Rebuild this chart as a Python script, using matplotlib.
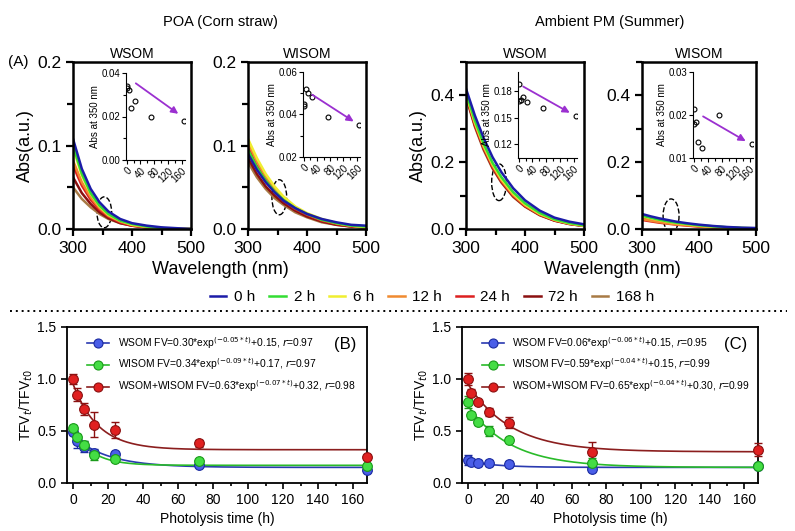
import numpy as np
import matplotlib
matplotlib.use("Agg")
import matplotlib.pyplot as plt
from matplotlib.patches import Ellipse
from matplotlib.lines import Line2D
from matplotlib.ticker import MultipleLocator

plt.rcParams['font.family'] = ['Liberation Sans', 'DejaVu Sans']

# ---- data: absorption spectra (A) ----
wavelength = [300, 315, 330, 345, 360, 380, 400, 425, 450, 475, 500]
hours = ["0 h", "2 h", "6 h", "12 h", "24 h", "72 h", "168 h"]
line_colors = ["#1c1ca8", "#33dd33", "#f0ee30", "#f08a30", "#dd2020", "#8b1010", "#a87a45"]

poa_wsom = [
    [0.108, 0.072, 0.048, 0.032, 0.021, 0.012, 0.007, 0.004, 0.002, 0.001, 0.000],
    [0.100, 0.066, 0.043, 0.028, 0.018, 0.010, 0.006, 0.003, 0.001, 0.000, 0.000],
    [0.097, 0.064, 0.042, 0.027, 0.017, 0.010, 0.005, 0.003, 0.001, 0.000, 0.000],
    [0.082, 0.056, 0.038, 0.025, 0.016, 0.009, 0.005, 0.002, 0.001, 0.000, 0.000],
    [0.076, 0.052, 0.035, 0.023, 0.015, 0.008, 0.004, 0.002, 0.001, 0.000, 0.000],
    [0.062, 0.043, 0.030, 0.020, 0.013, 0.007, 0.004, 0.002, 0.001, 0.000, 0.000],
    [0.050, 0.036, 0.026, 0.018, 0.012, 0.007, 0.004, 0.002, 0.001, 0.000, 0.000],
]
poa_wisom = [
    [0.090, 0.071, 0.056, 0.044, 0.034, 0.025, 0.018, 0.012, 0.008, 0.005, 0.004],
    [0.095, 0.074, 0.058, 0.045, 0.035, 0.025, 0.018, 0.011, 0.007, 0.004, 0.003],
    [0.108, 0.085, 0.066, 0.051, 0.039, 0.027, 0.019, 0.012, 0.007, 0.004, 0.002],
    [0.104, 0.081, 0.063, 0.048, 0.037, 0.026, 0.018, 0.011, 0.007, 0.004, 0.002],
    [0.098, 0.076, 0.059, 0.045, 0.034, 0.024, 0.017, 0.010, 0.006, 0.003, 0.002],
    [0.085, 0.066, 0.051, 0.040, 0.031, 0.022, 0.015, 0.009, 0.005, 0.003, 0.002],
    [0.080, 0.062, 0.048, 0.037, 0.029, 0.020, 0.014, 0.008, 0.005, 0.003, 0.002],
]
pm_wsom = [
    [0.420, 0.340, 0.272, 0.215, 0.170, 0.122, 0.086, 0.055, 0.034, 0.022, 0.014],
    [0.410, 0.325, 0.255, 0.198, 0.155, 0.110, 0.077, 0.048, 0.029, 0.018, 0.011],
    [0.405, 0.320, 0.250, 0.194, 0.150, 0.106, 0.074, 0.046, 0.028, 0.017, 0.010],
    [0.405, 0.318, 0.246, 0.190, 0.146, 0.102, 0.071, 0.044, 0.027, 0.016, 0.010],
    [0.400, 0.312, 0.242, 0.186, 0.143, 0.100, 0.069, 0.043, 0.026, 0.016, 0.010],
    [0.398, 0.310, 0.240, 0.184, 0.141, 0.098, 0.068, 0.042, 0.025, 0.015, 0.009],
    [0.395, 0.306, 0.236, 0.181, 0.139, 0.096, 0.067, 0.041, 0.025, 0.015, 0.009],
]
pm_wisom = [
    [0.045, 0.038, 0.032, 0.027, 0.022, 0.017, 0.013, 0.009, 0.006, 0.004, 0.003],
    [0.040, 0.034, 0.028, 0.023, 0.019, 0.015, 0.011, 0.008, 0.005, 0.003, 0.002],
    [0.038, 0.032, 0.027, 0.022, 0.018, 0.014, 0.010, 0.007, 0.005, 0.003, 0.002],
    [0.030, 0.025, 0.021, 0.017, 0.014, 0.011, 0.008, 0.005, 0.003, 0.002, 0.001],
    [0.027, 0.023, 0.019, 0.016, 0.013, 0.010, 0.007, 0.005, 0.003, 0.002, 0.001],
    [0.034, 0.029, 0.024, 0.020, 0.016, 0.012, 0.009, 0.006, 0.004, 0.002, 0.001],
    [0.036, 0.030, 0.025, 0.020, 0.016, 0.012, 0.009, 0.006, 0.004, 0.002, 0.001],
]

# inset: absorbance at 350 nm vs time
inset_time = [0, 2, 6, 12, 24, 72, 168]
abs350_poa_wsom = [0.034, 0.033, 0.032, 0.024, 0.027, 0.020, 0.018]
abs350_poa_wisom = [0.044, 0.045, 0.052, 0.050, 0.048, 0.039, 0.035]
abs350_pm_wsom = [0.188, 0.169, 0.170, 0.174, 0.168, 0.161, 0.152]
abs350_pm_wisom = [0.0215, 0.0178, 0.0184, 0.0137, 0.0124, 0.020, 0.0133]

# ---- data: fluorescence decay (B, C) ----
ptime = [0, 2, 6, 12, 24, 72, 168]
b_wsom = [0.49, 0.40, 0.35, 0.29, 0.28, 0.17, 0.125]
b_wsom_err = [0.03, 0.06, 0.05, 0.04, 0.02, 0.02, 0.02]
b_wisom = [0.53, 0.44, 0.37, 0.27, 0.23, 0.21, 0.16]
b_wisom_err = [0.03, 0.03, 0.03, 0.05, 0.02, 0.02, 0.02]
b_mix = [1.00, 0.85, 0.71, 0.56, 0.51, 0.38, 0.25]
b_mix_err = [0.05, 0.06, 0.06, 0.12, 0.08, 0.03, 0.02]

c_wsom = [0.22, 0.20, 0.19, 0.19, 0.18, 0.135, 0.16]
c_wsom_err = [0.05, 0.03, 0.03, 0.03, 0.03, 0.02, 0.02]
c_wisom = [0.78, 0.65, 0.59, 0.50, 0.41, 0.19, 0.16]
c_wisom_err = [0.06, 0.03, 0.03, 0.05, 0.02, 0.05, 0.02]
c_mix = [1.00, 0.87, 0.78, 0.68, 0.58, 0.30, 0.32]
c_mix_err = [0.06, 0.03, 0.02, 0.04, 0.05, 0.09, 0.06]

# fitted parameters (a, k, c) for FV = a*exp(-k*t)+c
b_fits = [(0.30, 0.05, 0.15), (0.34, 0.09, 0.17), (0.63, 0.07, 0.32)]
c_fits = [(0.06, 0.06, 0.15), (0.59, 0.04, 0.15), (0.65, 0.04, 0.30)]
b_labels = ["WSOM FV=0.30*exp$^{(-0.05*t)}$+0.15, $r$=0.97",
            "WISOM FV=0.34*exp$^{(-0.09*t)}$+0.17, $r$=0.97",
            "WSOM+WISOM FV=0.63*exp$^{(-0.07*t)}$+0.32, $r$=0.98"]
c_labels = ["WSOM FV=0.06*exp$^{(-0.06*t)}$+0.15, $r$=0.95",
            "WISOM FV=0.59*exp$^{(-0.04*t)}$+0.15, $r$=0.99",
            "WSOM+WISOM FV=0.65*exp$^{(-0.04*t)}$+0.30, $r$=0.99"]

W, H = 795, 531
fig = plt.figure(figsize=(W / 100, H / 100), dpi=100)


def px_axes(left, top, right, bottom):
    """ Add an axes using pixel coordinates of the figure. """
    return fig.add_axes([left / W, 1 - bottom / H, (right - left) / W, (bottom - top) / H])


def spectrum_panel(left, right, data, ymax, ystep, title, ell, show_ylabel):
    """ Draw one spectra panel with dashed ellipse. """
    ax = px_axes(left, 62, right, 229)
    for i in range(len(hours) - 1, -1, -1):
        ax.plot(wavelength, data[i], color=line_colors[i], lw=1.8)
    ax.set_xlim(300, 500)
    ax.set_ylim(0, ymax)
    ax.xaxis.set_major_locator(MultipleLocator(100))
    ax.xaxis.set_minor_locator(MultipleLocator(50))
    ax.yaxis.set_major_locator(MultipleLocator(ystep))
    ax.yaxis.set_minor_locator(MultipleLocator(ystep / 2))
    ax.tick_params(which='major', direction='out', length=5, width=1.6, labelsize=12.5)
    ax.tick_params(which='minor', direction='out', length=4, width=1.6)
    for s in ax.spines.values():
        s.set_linewidth(1.8)
    ax.set_title(title, fontsize=10, pad=3)
    if show_ylabel:
        ax.set_ylabel("Abs(a.u.)", fontsize=13, labelpad=2)
    ax.add_patch(Ellipse(ell[:2], ell[2], ell[3], fill=False, ls='--', lw=1.0, ec='black'))
    return ax


def inset(left, top, right, bottom, yvals, ylim, ymajor, yminor, fmt, arrow):
    """ Draw the Abs-at-350 inset with arrow. """
    ax = px_axes(left, top, right, bottom)
    ax.patch.set_alpha(0)
    ax.plot(inset_time, yvals, 'o', mfc='none', mec='black', ms=3.5, mew=0.8)
    ax.set_xlim(-2, 170)
    ax.set_ylim(*ylim)
    ax.spines['top'].set_visible(False)
    ax.spines['right'].set_visible(False)
    for s in ['left', 'bottom']:
        ax.spines[s].set_linewidth(0.8)
    ax.set_xticks([0, 40, 80, 120, 160])
    ax.xaxis.set_minor_locator(MultipleLocator(20))
    ax.set_yticks(ymajor)
    if yminor:
        ax.yaxis.set_minor_locator(MultipleLocator(yminor))
    ax.set_yticklabels([fmt % v for v in ymajor])
    ax.tick_params(which='both', direction='out', width=0.8, labelsize=7, pad=1)
    ax.tick_params(which='major', length=3)
    ax.tick_params(which='minor', length=2)
    for lab in ax.get_xticklabels():
        lab.set_rotation(45)
        lab.set_ha('right')
        lab.set_va('top')
        lab.set_rotation_mode('anchor')
    ax.set_ylabel("Abs at 350 nm", fontsize=7, labelpad=1)
    ax.annotate("", xy=arrow[2:], xytext=arrow[:2],
                arrowprops=dict(arrowstyle='-|>', color='#9b30d0', lw=1.3, mutation_scale=10))
    return ax


spectrum_panel(73, 191, poa_wsom, 0.2, 0.1, "WSOM", (353, 0.02, 25, 0.037), True)
spectrum_panel(248, 366, poa_wisom, 0.2, 0.1, "WISOM", (353, 0.038, 25, 0.042), False)
spectrum_panel(466, 584, pm_wsom, 0.5, 0.2, "WSOM", (356, 0.14, 25, 0.11), True)
spectrum_panel(642, 756, pm_wisom, 0.5, 0.2, "WISOM", (351, 0.04, 28, 0.10), False)

inset(126, 73, 185, 160, abs350_poa_wsom, (0, 0.04), [0.00, 0.02, 0.04], 0.01, "%.2f",
      (20, 0.036, 157, 0.0205))
inset(303, 72, 360, 157, abs350_poa_wisom, (0.02, 0.06), [0.02, 0.04, 0.06], 0.01, "%.2f",
      (19, 0.050, 158, 0.036))
inset(518, 72, 577, 158, abs350_pm_wsom, (0.104, 0.202), [0.12, 0.15, 0.18], None, "%.2f",
      (6, 0.187, 156, 0.154))
inset(693, 72, 753, 158, abs350_pm_wisom, (0.01, 0.03), [0.01, 0.02, 0.03], None, "%.2f",
      (20, 0.020, 156, 0.0136))

fig.text(220 / W, 1 - 22 / H, "POA (Corn straw)", ha='center', va='center', fontsize=10.5)
fig.text(610 / W, 1 - 22 / H, "Ambient PM (Summer)", ha='center', va='center', fontsize=10.5)
fig.text(8 / W, 1 - 62 / H, "(A)", ha='left', va='center', fontsize=11)
fig.text(220 / W, 1 - 269 / H, "Wavelength (nm)", ha='center', va='center', fontsize=13)
fig.text(612 / W, 1 - 269 / H, "Wavelength (nm)", ha='center', va='center', fontsize=13)

handles = [Line2D([], [], color=c, lw=1.8) for c in line_colors]
fig.legend(handles, hours, loc='center', bbox_to_anchor=(432 / W, 1 - 297 / H), ncol=7,
           frameon=False, fontsize=11, handlelength=1.1, handletextpad=0.5, columnspacing=0.9,
           borderpad=0.1)

fig.add_artist(Line2D([10 / W, 787 / W], [1 - 311 / H, 1 - 311 / H], color='black',
                      ls=(0, (1, 2)), lw=1.4))

# ---- decay panels ----
dot_face = ["#4a5ee8", "#44dd44", "#e02020"]
dot_edge = ["#1a2aa0", "#1a9a1a", "#8b1010"]
fit_color = ["#2a3ab0", "#2abb2a", "#8b1e1e"]


def decay_panel(left, right, series, errs, fits, labels, tag):
    """ Draw a fluorescence decay panel with fitted curves. """
    ax = px_axes(left, 327, right, 483)
    tt = np.linspace(0, 168, 300)
    handles = []
    for i in range(3):
        a, k, c = fits[i]
        ax.plot(tt, a * np.exp(-k * tt) + c, color=fit_color[i], lw=1.2, zorder=2)
        ax.errorbar(ptime, series[i], yerr=errs[i], fmt='none', ecolor=dot_edge[i],
                    elinewidth=1, capsize=3, capthick=1, zorder=3, clip_on=False)
        ax.plot(ptime, series[i], 'o', mfc=dot_face[i], mec=dot_edge[i], ms=7, mew=0.8,
                zorder=4, clip_on=False)
        handles.append(Line2D([], [], color=fit_color[i], lw=1.2, marker='o', mfc=dot_face[i],
                              mec=dot_edge[i], ms=6.5, mew=0.8))
    ax.set_xlim(-3.5, 168)
    ax.set_ylim(0, 1.5)
    ax.xaxis.set_major_locator(MultipleLocator(20))
    ax.xaxis.set_minor_locator(MultipleLocator(10))
    ax.yaxis.set_major_locator(MultipleLocator(0.5))
    ax.tick_params(which='major', direction='out', length=4, width=1.2, labelsize=10)
    ax.tick_params(which='minor', direction='out', length=2.5, width=1.2)
    for s in ax.spines.values():
        s.set_linewidth(1.3)
    ax.set_xlabel("Photolysis time (h)", fontsize=10, labelpad=3)
    ax.set_ylabel("TFV$_t$/TFV$_{t0}$", fontsize=10, labelpad=2)
    ax.legend(handles, labels, loc='upper left', bbox_to_anchor=(0.04, 1.0), frameon=False,
              fontsize=7.4, handlelength=2.2, labelspacing=0.6, borderaxespad=0.35)
    ax.text(0.965, 0.89, tag, transform=ax.transAxes, ha='right', va='center', fontsize=12)
    return ax


decay_panel(67, 367, [b_wsom, b_wisom, b_mix], [b_wsom_err, b_wisom_err, b_mix_err],
            b_fits, b_labels, "(B)")
decay_panel(462, 758, [c_wsom, c_wisom, c_mix], [c_wsom_err, c_wisom_err, c_mix_err],
            c_fits, c_labels, "(C)")

fig.savefig("out.png", dpi=100)
